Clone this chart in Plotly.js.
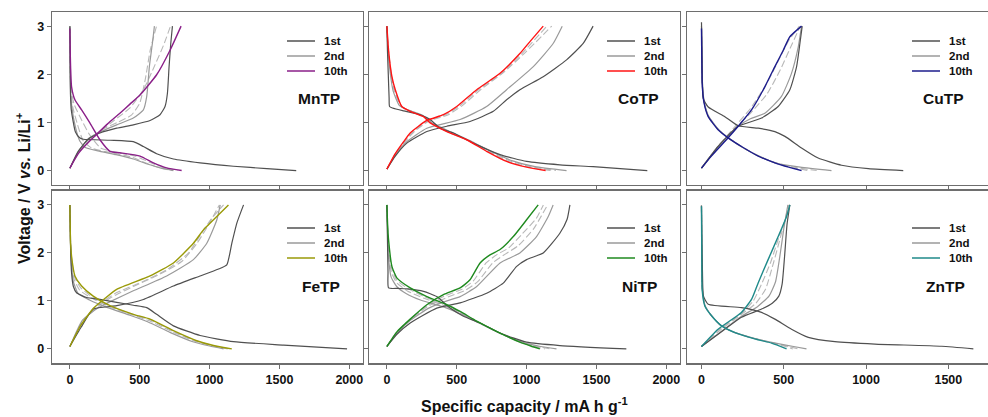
<!DOCTYPE html>
<html><head><meta charset="utf-8">
<script src="https://cdn.plot.ly/plotly-3.0.1.min.js"></script>
<style>html,body{margin:0;padding:0;background:#fff}#chart{width:988px;height:417px}</style>
</head><body><div id="chart"></div>
<script>
// ---------- data: [capacity (mA h g-1), voltage (V)] ----------
const panelNames = ["MnTP","CoTP","CuTP","FeTP","NiTP","ZnTP"];
const cycleLabels = ["1st","2nd","10th"];
const tenthColors = ["#8a1f88","#ff1414","#1c1c8c","#9a9a08","#1f8a1f","#1f8a8a"];
const xTicks = [0,500,1000,1500,2000];
const yTicks = [0,1,2,3];

// MnTP
const mnD1 = [[0,3.0],[2,2.0],[4,1.6],[10,1.26],[40,0.8],[70,0.68],[96,0.65],[290,0.63],[454,0.6],[526,0.5],[621,0.35],[741,0.24],[932,0.16],[1171,0.09],[1410,0.04],[1620,0]];
const mnD2 = [[0,3.0],[3,2.0],[6,1.6],[15,1.3],[40,0.9],[70,0.62],[110,0.48],[215,0.4],[330,0.33],[454,0.24],[560,0.13],[640,0.06],[740,0]];
const mnDa = [[0,3.0],[3,2.0],[8,1.6],[22,1.3],[55,0.95],[95,0.62],[160,0.46],[280,0.38],[430,0.29],[550,0.15],[640,0.06],[730,0]];
const mnDb = [[0,3.0],[3,2.0],[10,1.65],[30,1.38],[75,1.1],[140,0.75],[220,0.47],[330,0.38],[470,0.3],[580,0.16],[670,0.06],[770,0]];
const mnD10 = [[0,2.95],[3,2.4],[5,2.16],[12,1.74],[36,1.47],[84,1.26],[143,0.99],[215,0.64],[287,0.4],[358,0.37],[502,0.3],[598,0.16],[693,0.055],[800,0]];
const mnC1 = [[0,0.05],[60,0.4],[130,0.65],[215,0.78],[335,0.88],[454,0.95],[574,1.04],[645,1.16],[681,1.33],[698,1.6],[710,2.16],[722,2.64],[734,3.0]];
const mnC2 = [[0,0.05],[60,0.4],[140,0.68],[230,0.82],[335,0.95],[454,1.09],[526,1.26],[550,1.54],[569,2.16],[593,2.7],[605,3.0]];
const mnCa = [[0,0.05],[60,0.38],[140,0.66],[230,0.85],[340,1.0],[440,1.15],[500,1.4],[540,1.9],[575,2.5],[620,3.0]];
const mnCb = [[0,0.05],[60,0.36],[130,0.6],[210,0.8],[320,1.05],[430,1.3],[530,1.7],[610,2.2],[670,2.6],[720,3.0]];
const mnC10 = [[0,0.05],[60,0.35],[120,0.55],[180,0.72],[270,0.97],[358,1.19],[430,1.38],[502,1.57],[621,1.99],[717,2.5],[796,3.0]];

// CoTP
const coD1 = [[0,3.0],[4,2.5],[10,2.0],[16,1.5],[19,1.33],[40,1.3],[119,1.24],[238,1.16],[310,1.06],[381,0.88],[476,0.78],[619,0.57],[810,0.33],[1000,0.19],[1238,0.12],[1476,0.08],[1864,0]];
const coD2 = [[0,3.0],[8,2.5],[25,2.0],[45,1.65],[90,1.35],[160,1.25],[260,1.14],[330,0.98],[460,0.8],[610,0.6],[760,0.38],[900,0.2],[1060,0.08],[1286,0]];
const coDa = [[0,3.0],[10,2.5],[30,2.0],[52,1.66],[100,1.34],[165,1.24],[262,1.13],[320,0.99],[445,0.8],[590,0.62],[735,0.39],[880,0.2],[1030,0.08],[1210,0]];
const coDb = [[0,3.0],[11,2.5],[33,1.97],[56,1.67],[104,1.33],[166,1.23],[262,1.12],[315,0.99],[437,0.8],[580,0.63],[725,0.4],[868,0.19],[1015,0.07],[1170,0]];
const coD10 = [[0,3.0],[12,2.5],[36,1.95],[60,1.68],[107,1.33],[167,1.23],[262,1.12],[310,0.99],[429,0.81],[571,0.64],[714,0.4],[857,0.19],[1000,0.07],[1136,0]];
const coC1 = [[0,0.03],[60,0.3],[143,0.57],[286,0.81],[429,0.92],[595,1.02],[762,1.23],[857,1.47],[952,1.68],[1119,1.95],[1286,2.3],[1405,2.64],[1476,3.0]];
const coC2 = [[0,0.03],[60,0.32],[143,0.6],[286,0.88],[524,1.06],[714,1.33],[857,1.68],[1048,2.16],[1190,2.64],[1255,3.0]];
const coCa = [[0,0.03],[60,0.34],[130,0.6],[200,0.82],[300,1.03],[440,1.16],[540,1.35],[680,1.7],[840,2.05],[990,2.45],[1180,3.0]];
const coCb = [[0,0.03],[60,0.34],[125,0.6],[185,0.8],[295,1.04],[420,1.16],[520,1.34],[660,1.69],[825,2.03],[970,2.44],[1145,3.0]];
const coC10 = [[0,0.03],[60,0.35],[120,0.6],[167,0.78],[286,1.04],[405,1.16],[500,1.33],[643,1.68],[810,2.02],[952,2.43],[1030,2.7],[1119,3.0]];

// CuTP
const cuD1 = [[0,3.08],[3,2.5],[6,1.8],[10,1.5],[41,1.32],[142,1.12],[223,0.93],[345,0.88],[446,0.81],[507,0.71],[608,0.47],[709,0.26],[851,0.11],[1014,0.04],[1226,0]];
const cuD2 = [[0,3.0],[3,2.3],[6,1.8],[18,1.4],[45,1.12],[105,0.85],[170,0.66],[250,0.48],[350,0.3],[450,0.16],[600,0.07],[790,0]];
const cuDa = [[0,3.0],[3,2.3],[5,1.8],[17,1.4],[43,1.12],[103,0.85],[166,0.67],[246,0.49],[347,0.3],[448,0.16],[560,0.07],[700,0]];
const cuDb = [[0,3.0],[2,2.3],[4,1.8],[16,1.4],[42,1.12],[102,0.85],[164,0.68],[245,0.5],[346,0.3],[447,0.16],[545,0.07],[650,0]];
const cuD10 = [[0,2.95],[2,2.3],[4,1.81],[16,1.4],[41,1.12],[101,0.85],[162,0.68],[243,0.5],[345,0.3],[446,0.16],[530,0.07],[608,0]];
const cuC1 = [[0,0.05],[101,0.5],[223,0.92],[365,1.09],[466,1.33],[537,1.68],[578,2.16],[598,2.64],[612,3.0]];
const cuC2 = [[0,0.05],[101,0.5],[223,0.92],[300,1.08],[385,1.19],[486,1.54],[547,2.02],[588,2.57],[608,3.0]];
const cuCa = [[0,0.05],[100,0.5],[215,0.92],[300,1.2],[400,1.6],[480,2.1],[540,2.55],[600,3.0]];
const cuCb = [[0,0.05],[95,0.48],[205,0.92],[300,1.3],[395,1.8],[470,2.3],[530,2.7],[595,3.0]];
const cuC10 = [[0,0.05],[60,0.3],[162,0.68],[223,0.92],[304,1.26],[385,1.74],[446,2.16],[497,2.5],[537,2.78],[608,3.0]];

// FeTP
const feD1 = [[0,3.0],[4,2.2],[12,1.59],[25,1.3],[48,1.17],[120,1.07],[215,1.03],[335,0.97],[454,0.91],[550,0.86],[621,0.72],[741,0.48],[932,0.28],[1171,0.15],[1530,0.08],[1984,0]];
const feD2 = [[0,3.0],[5,2.2],[10,1.8],[25,1.4],[60,1.15],[140,1.02],[270,0.86],[430,0.7],[560,0.56],[720,0.34],[880,0.15],[1000,0.06],[1100,0]];
const feDa = [[0,3.0],[5,2.2],[11,1.85],[30,1.45],[72,1.22],[155,1.06],[280,0.88],[445,0.71],[565,0.59],[730,0.36],[895,0.16],[1015,0.065],[1130,0]];
const feDb = [[0,3.0],[5,2.2],[12,1.9],[33,1.5],[78,1.27],[160,1.08],[284,0.89],[450,0.72],[570,0.61],[736,0.37],[902,0.17],[1022,0.07],[1145,0]];
const feD10 = [[0,3.0],[5,2.2],[12,1.93],[36,1.52],[84,1.31],[167,1.1],[287,0.9],[454,0.72],[574,0.62],[741,0.38],[908,0.17],[1028,0.07],[1159,0]];
const feC1 = [[0,0.05],[80,0.45],[167,0.83],[335,0.9],[526,1.03],[741,1.31],[932,1.52],[1060,1.66],[1123,1.75],[1159,2.2],[1195,2.62],[1243,3.0]];
const feC2 = [[0,0.05],[90,0.6],[200,0.85],[300,1.0],[454,1.21],[693,1.52],[884,1.86],[980,2.2],[1052,2.69],[1076,3.0]];
const feCa = [[0,0.05],[85,0.55],[185,0.85],[300,1.08],[454,1.3],[640,1.55],[800,1.82],[910,2.2],[985,2.55],[1070,3.0]];
const feCb = [[0,0.05],[82,0.52],[175,0.85],[320,1.15],[520,1.4],[700,1.66],[850,2.0],[940,2.4],[1010,2.7],[1100,3.0]];
const feC10 = [[0,0.05],[80,0.5],[170,0.85],[250,1.05],[335,1.24],[574,1.52],[741,1.79],[884,2.2],[956,2.48],[1028,2.69],[1135,3.0]];

// NiTP
const niD1 = [[0,3.0],[4,2.3],[8,1.6],[12,1.27],[80,1.26],[143,1.25],[262,1.2],[357,1.09],[452,0.85],[548,0.68],[667,0.54],[810,0.33],[1000,0.14],[1238,0.07],[1714,0]];
const niD2 = [[0,3.0],[5,2.4],[12,1.9],[30,1.5],[70,1.3],[140,1.15],[240,1.02],[400,0.88],[520,0.74],[660,0.54],[830,0.3],[980,0.13],[1100,0.05],[1214,0]];
const niDa = [[0,3.0],[5,2.5],[12,2.05],[32,1.6],[70,1.38],[150,1.2],[260,1.06],[410,0.9],[522,0.76],[650,0.56],[820,0.31],[965,0.13],[1080,0.05],[1170,0]];
const niDb = [[0,3.0],[5,2.55],[12,2.15],[34,1.68],[71,1.43],[160,1.24],[275,1.08],[420,0.91],[523,0.77],[646,0.57],[815,0.32],[958,0.135],[1050,0.055],[1130,0]];
const niD10 = [[0,3.0],[5,2.6],[12,2.27],[36,1.72],[71,1.48],[167,1.27],[286,1.09],[429,0.92],[524,0.78],[643,0.58],[810,0.33],[952,0.14],[1030,0.06],[1095,0]];
const niC1 = [[0,0.05],[70,0.3],[167,0.54],[357,0.85],[524,0.96],[714,1.16],[833,1.37],[929,1.72],[1000,1.86],[1119,2.0],[1238,2.41],[1290,2.7],[1310,3.0]];
const niC2 = [[0,0.05],[70,0.32],[170,0.6],[300,0.85],[430,1.0],[524,1.09],[643,1.3],[810,1.79],[952,2.0],[1071,2.34],[1155,2.76],[1190,3.0]];
const niCa = [[0,0.05],[70,0.34],[168,0.61],[290,0.88],[420,1.06],[560,1.22],[650,1.4],[760,1.8],[850,1.98],[940,2.15],[1050,2.5],[1150,3.0]];
const niCb = [[0,0.05],[70,0.35],[167,0.62],[288,0.9],[412,1.1],[540,1.25],[620,1.42],[710,1.79],[790,1.97],[870,2.1],[970,2.4],[1070,2.72],[1120,3.0]];
const niC10 = [[0,0.05],[70,0.35],[167,0.62],[286,0.92],[405,1.13],[524,1.27],[595,1.44],[667,1.79],[738,1.96],[810,2.07],[905,2.34],[1000,2.69],[1083,3.0]];

// ZnTP
const znD1 = [[0,2.97],[3,2.2],[6,1.6],[12,1.1],[41,0.93],[243,0.86],[365,0.76],[446,0.62],[547,0.41],[649,0.24],[811,0.15],[1054,0.1],[1459,0.055],[1652,0]];
const znD2 = [[0,3.0],[1,2.4],[3,1.8],[6,1.25],[22,0.9],[60,0.7],[115,0.5],[190,0.36],[320,0.22],[450,0.12],[560,0.05],[638,0]];
const znDa = [[0,3.0],[1,2.4],[2,1.8],[5,1.25],[21,0.9],[60,0.7],[118,0.49],[195,0.35],[322,0.215],[440,0.12],[530,0.05],[590,0]];
const znDb = [[0,3.0],[1,2.4],[2,1.8],[4,1.25],[20,0.9],[60,0.69],[120,0.48],[200,0.34],[323,0.21],[432,0.12],[510,0.05],[555,0]];
const znD10 = [[0,2.97],[1,2.4],[2,1.8],[4,1.24],[20,0.9],[61,0.69],[122,0.48],[203,0.34],[324,0.21],[426,0.12],[517,0]];
const znC1 = [[0,0.05],[142,0.41],[243,0.66],[365,0.83],[430,0.95],[470,1.1],[490,1.35],[505,1.93],[520,2.6],[537,3.0]];
const znC2 = [[0,0.05],[142,0.42],[243,0.68],[340,0.88],[410,1.1],[450,1.4],[475,1.9],[500,2.5],[525,3.0]];
const znCa = [[0,0.05],[120,0.41],[243,0.72],[330,0.95],[390,1.25],[430,1.7],[470,2.2],[505,2.65],[530,3.0]];
const znCb = [[0,0.05],[110,0.41],[243,0.74],[315,1.0],[365,1.35],[420,1.8],[468,2.3],[510,2.7],[535,3.0]];
const znC10 = [[0,0.05],[101,0.41],[243,0.76],[304,1.03],[345,1.38],[405,1.86],[466,2.34],[517,2.76],[537,3.0]];

// ---------- build ----------
const panelCurves = [
  {d1:mnD1,d2:mnD2,da:mnDa,db:mnDb,d10:mnD10,c1:mnC1,c2:mnC2,ca:mnCa,cb:mnCb,c10:mnC10},
  {d1:coD1,d2:coD2,da:coDa,db:coDb,d10:coD10,c1:coC1,c2:coC2,ca:coCa,cb:coCb,c10:coC10},
  {d1:cuD1,d2:cuD2,da:cuDa,db:cuDb,d10:cuD10,c1:cuC1,c2:cuC2,ca:cuCa,cb:cuCb,c10:cuC10},
  {d1:feD1,d2:feD2,da:feDa,db:feDb,d10:feD10,c1:feC1,c2:feC2,ca:feCa,cb:feCb,c10:feC10},
  {d1:niD1,d2:niD2,da:niDa,db:niDb,d10:niD10,c1:niC1,c2:niC2,ca:niCa,cb:niCb,c10:niC10},
  {d1:znD1,d2:znD2,da:znDa,db:znDb,d10:znD10,c1:znC1,c2:znC2,ca:znCa,cb:znCb,c10:znC10}
];

const W = 988, H = 417;
const colPx = [[52,363],[369,680],[687,988]];
const rowPx = [[11.7,185],[190.5,363.3]];
const colRange = [[-128,2098],[-128,2098],[-88,1741]];
const legLinePx = [[287,315],[607,635],[912,940]];
const legRowPx = [[41,56,71],[228,243,258]];
const labelPx = [[319,99],[638,99],[943,99],[321,286],[639,286],[945,286]];

const FONT = "Liberation Sans, Arial, sans-serif";
const C1 = "#505050", C2 = "#9a9a9a", CD = "#b8b8b8";
const traces = [];
const layout = {
  width: W, height: H, margin: {l:0,r:0,t:0,b:0},
  paper_bgcolor: "#fff", plot_bgcolor: "#fff",
  font: {family: FONT, color: "#111"},
  annotations: [], shapes: [], showlegend: false
};

function line(arr, axi, color, dash, width){
  return {x: arr.map(p=>p[0]), y: arr.map(p=>p[1]), mode:"lines", type:"scatter",
    xaxis: "x"+(axi===1?"":axi), yaxis: "y"+(axi===1?"":axi),
    line:{color, dash, width, shape:"spline", smoothing:0.5}, hoverinfo:"skip"};
}

panelCurves.forEach((pc, i) => {
  const axi = i+1, col = i%3, row = Math.floor(i/3);
  const col10 = tenthColors[i];
  [pc.da, pc.db, pc.ca, pc.cb].forEach(a => traces.push(line(a, axi, CD, "7px,3px", 1.1)));
  traces.push(line(pc.d2, axi, C2, "solid", 1.2));
  traces.push(line(pc.c2, axi, C2, "solid", 1.2));
  traces.push(line(pc.d1, axi, C1, "solid", 1.2));
  traces.push(line(pc.c1, axi, C1, "solid", 1.2));
  traces.push(line(pc.d10, axi, col10, "solid", 1.4));
  traces.push(line(pc.c10, axi, col10, "solid", 1.4));

  const xk = "xaxis"+(axi===1?"":axi), yk = "yaxis"+(axi===1?"":axi);
  const common = {showline:true, mirror:true, linecolor:"#6e6e6e", linewidth:1.2,
    ticks:"outside", ticklen:4, tickcolor:"#6e6e6e", tickwidth:1, showgrid:false, zeroline:false,
    tickfont:{family:FONT, size:12.5, color:"#111", weight:"bold"}};
  layout[xk] = Object.assign({}, common, {
    domain:[colPx[col][0]/W, colPx[col][1]/W], range: colRange[col],
    tickvals: xTicks, showticklabels: row===1, anchor: "y"+(axi===1?"":axi)});
  layout[yk] = Object.assign({}, common, {
    domain:[1-rowPx[row][1]/H, 1-rowPx[row][0]/H], range:[-0.3,3.3],
    tickvals: yTicks, showticklabels: col===0, anchor: "x"+(axi===1?"":axi)});

  // legend (line sample + label) for the panel
  const legColors = [C1, C2, col10];
  cycleLabels.forEach((lab, k) => {
    const yp = 1 - legRowPx[row][k]/H;
    layout.shapes.push({type:"line", xref:"paper", yref:"paper",
      x0: legLinePx[col][0]/W, x1: legLinePx[col][1]/W, y0: yp, y1: yp,
      line:{color: legColors[k], width: 1.5}});
    layout.annotations.push({text: lab, x: (legLinePx[col][1]+7)/W, y: yp,
      xref:"paper", yref:"paper", showarrow:false, xanchor:"left", yanchor:"middle",
      font:{family:FONT, size:11.5, color:"#111", weight:"bold"}});
  });
  layout.annotations.push({text: panelNames[i], x: labelPx[i][0]/W, y: 1-labelPx[i][1]/H,
    xref:"paper", yref:"paper", showarrow:false, xanchor:"center", yanchor:"middle",
    font:{family:FONT, size:15.5, color:"#111", weight:"bold"}});
});

layout.annotations.push({text:"Voltage / V <i>vs.</i> Li/Li<sup>+</sup>", x:23/W, y:1-188/H,
  xref:"paper", yref:"paper", showarrow:false, textangle:-90, xanchor:"center", yanchor:"middle",
  font:{family:FONT, size:16, color:"#111", weight:"bold"}});
layout.annotations.push({text:"Specific capacity / mA h g<sup>-1</sup>", x:524/W, y:1-405/H,
  xref:"paper", yref:"paper", showarrow:false, xanchor:"center", yanchor:"middle",
  font:{family:FONT, size:16, color:"#111", weight:"bold"}});

Plotly.newPlot("chart", traces, layout, {staticPlot:true, displayModeBar:false});
</script></body></html>
